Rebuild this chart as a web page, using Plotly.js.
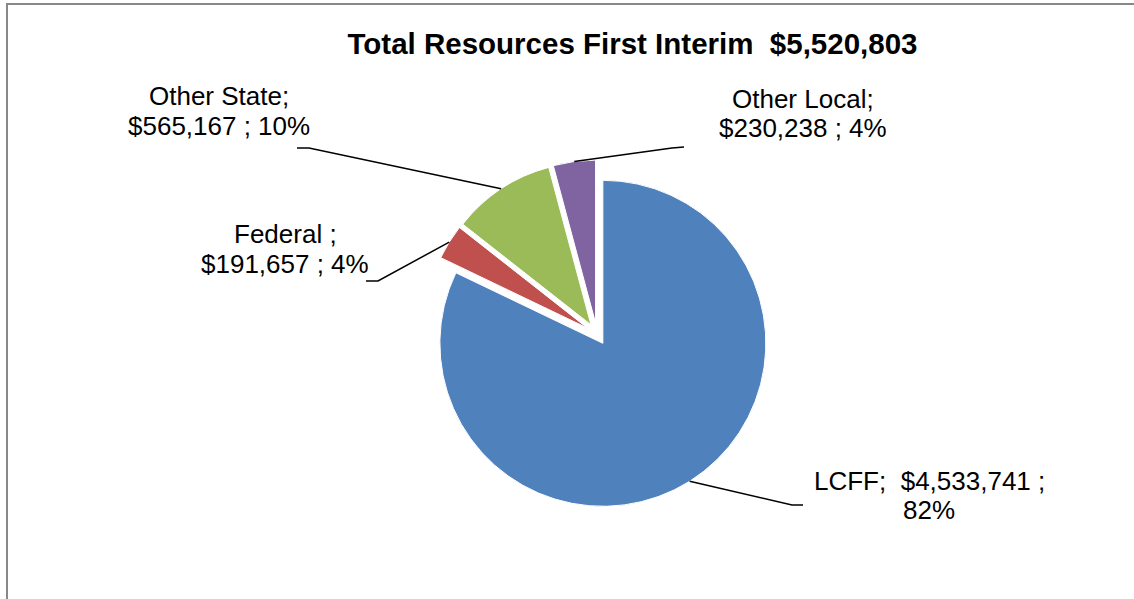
<!DOCTYPE html>
<html>
<head>
<meta charset="utf-8">
<script src="https://cdn.plot.ly/plotly-3.0.1.min.js"></script>
<style>
  html, body { margin: 0; padding: 0; background: #ffffff; }
  #chart { width: 1134px; height: 599px; }
</style>
</head>
<body>
<div id="chart"></div>
<script>
// ---- data ----
const categories = ["LCFF", "Federal ", "Other State", "Other Local"];
const values = [4533741, 191657, 565167, 230238];
const pctLabels = ["82%", "4%", "10%", "4%"];
const colors = ["#4F81BD", "#C0504D", "#9BBB59", "#8064A2"];
const titleText = "Total Resources First Interim \u00a0$5,520,803";

// ---- layout config (pixels) ----
const W = 1134, H = 599;
const pieCx = 597, pieCy = 334, pieR = 163, pullPx = 11;
const pull = pullPx / pieR;
const ext = pieR + pullPx;
// label line centres and leader-line points (elbow, end)
const labelPos = [
  {x: 929, y1: 481, y2: 510, elbow: [792, 505], end: [803, 505], brk: "pct"},
  {x: 285, y1: 234, y2: 263.5, elbow: [378, 281], end: [366, 281], brk: "name"},
  {x: 219, y1: 95.5, y2: 126, elbow: [309, 148], end: [297, 148], brk: "name"},
  {x: 803, y1: 99, y2: 127.5, elbow: [672, 148], end: [684, 147], brk: "name"}
];

const px = x => x / W;
const py = y => 1 - y / H;
const fmt = v => "$" + v.toLocaleString("en-US");
const total = values.reduce((a, b) => a + b, 0);
const labelFont = {family: "Liberation Sans, Arial, sans-serif", size: 26, color: "#000000"};

const annotations = [];
const shapes = [];
let cum = 0;
values.forEach((v, i) => {
  const frac = v / total;
  const pct = pctLabels[i];
  const mid = (cum + frac / 2) * 2 * Math.PI; // clockwise from 12 o'clock
  cum += frac;
  const sx = Math.sin(mid), sy = -Math.cos(mid);
  const cx = pieCx + pullPx * sx, cy = pieCy + pullPx * sy;
  const ax = cx + pieR * sx, ay = cy + pieR * sy;
  const L = labelPos[i];
  let line1, line2;
  if (L.brk === "pct") {
    line1 = categories[i] + ";\u00a0 " + fmt(v) + " ;";
    line2 = pct;
  } else {
    line1 = categories[i] + ";";
    line2 = fmt(v) + " ; " + pct;
  }
  [[line1, L.y1], [line2, L.y2]].forEach(([t, yy]) => {
    annotations.push({
      xref: "paper", yref: "paper", x: px(L.x), y: py(yy),
      xanchor: "center", yanchor: "middle", align: "center",
      text: t, showarrow: false, font: labelFont
    });
  });
  shapes.push({
    type: "path", xref: "paper", yref: "paper",
    path: `M ${px(ax)} ${py(ay)} L ${px(L.elbow[0])} ${py(L.elbow[1])} L ${px(L.end[0])} ${py(L.end[1])}`,
    line: {color: "#000000", width: 1.5}
  });
});

// chart border
shapes.push({type: "line", xref: "paper", yref: "paper", x0: px(7), x1: px(7), y0: py(3), y1: py(599), line: {color: "#888888", width: 2}});
shapes.push({type: "line", xref: "paper", yref: "paper", x0: px(6), x1: px(1134), y0: py(4), y1: py(4), line: {color: "#888888", width: 2}});

const trace = {
  type: "pie",
  labels: categories,
  values: values,
  sort: false,
  direction: "clockwise",
  rotation: 0,
  pull: values.map(() => pull),
  marker: {colors: colors, line: {color: "#ffffff", width: 1}},
  textinfo: "none",
  hoverinfo: "label+value+percent",
  showlegend: false,
  automargin: false,
  domain: {
    x: [px(pieCx - ext - 100), px(pieCx + ext + 100)],
    y: [py(pieCy + ext), py(pieCy - ext)]
  }
};

const layout = {
  width: W, height: H,
  margin: {l: 0, r: 0, t: 0, b: 0},
  paper_bgcolor: "#ffffff",
  title: {
    text: "<b>" + titleText + "</b>",
    x: px(632.5), xanchor: "center", xref: "paper",
    y: py(43.5), yanchor: "middle", yref: "container",
    font: {family: "Liberation Sans, Arial, sans-serif", size: 29.5, color: "#000000"}
  },
  annotations: annotations,
  shapes: shapes,
  showlegend: false
};

Plotly.newPlot("chart", [trace], layout, {displayModeBar: false, staticPlot: true});
</script>
</body>
</html>
